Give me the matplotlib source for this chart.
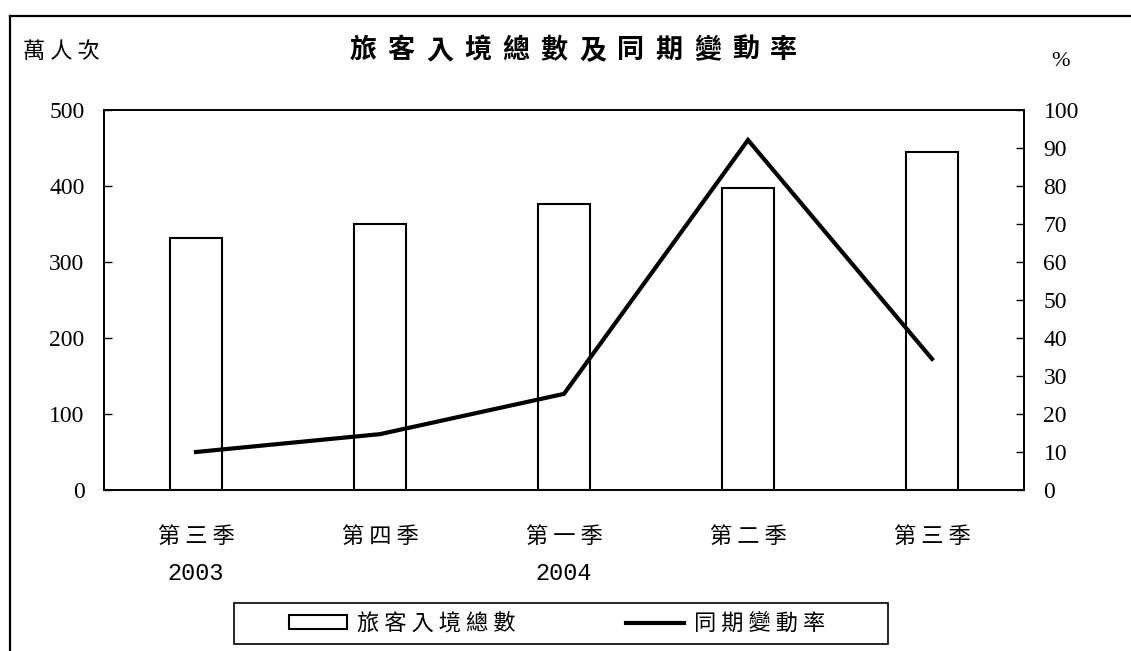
import matplotlib
matplotlib.use("Agg")
import matplotlib.pyplot as plt
from matplotlib.patches import Rectangle, Patch
from matplotlib.lines import Line2D
import matplotlib.transforms as mtrans

# ---- data ----
quarters = ["第三季", "第四季", "第一季", "第二季", "第三季"]
years = ["2003", "", "2004", "", ""]
arrivals = [331, 350, 376, 397, 445]          # 萬人次
change_rate = [10.0, 14.7, 25.3, 92.1, 34.5]  # %
left_ticks = [0, 100, 200, 300, 400, 500]
right_ticks = [0, 10, 20, 30, 40, 50, 60, 70, 80, 90, 100]
title = "旅客入境總數及同期變動率"
left_unit = "萬人次"
right_unit = "%"
bar_label = "旅客入境總數"
line_label = "同期變動率"

CJK = ["Noto Sans CJK TC", "DejaVu Sans"]
SERIF = "Liberation Serif"
MONO = "Liberation Mono"

W, H = 1131, 651
fig = plt.figure(figsize=(W / 100, H / 100), dpi=100)

# outer border (top and left visible, clipped at right/bottom)
fig.add_artist(Line2D([10 / W, 1.0], [1 - 15.5 / H, 1 - 15.5 / H], color="black", lw=1.6,
                      transform=fig.transFigure))
fig.add_artist(Line2D([10 / W, 10 / W], [0.0, 1 - 15.5 / H], color="black", lw=1.6,
                      transform=fig.transFigure))

ax_l, ax_r, ax_t, ax_b = 104, 1024, 110, 490
ax = fig.add_axes([ax_l / W, 1 - ax_b / H, (ax_r - ax_l) / W, (ax_b - ax_t) / H])
x = list(range(len(quarters)))
ax.bar(x, arrivals, width=0.28, facecolor="white", edgecolor="black", linewidth=1.5, zorder=2)
ax.set_xlim(-0.5, len(quarters) - 0.5)
ax.set_ylim(0, 500)
ax.set_yticks(left_ticks)
ax.set_yticklabels([str(t) for t in left_ticks], fontfamily=SERIF, fontsize=17)
ax.tick_params(axis="y", direction="in", length=6, width=1.0, pad=14, colors="black")
ax.set_xticks([])
for s in ax.spines.values():
    s.set_linewidth(1.2)
    s.set_color("black")

ax2 = ax.twinx()
ax2.plot(x, change_rate, color="black", lw=3.0, solid_joinstyle="miter", zorder=3)
ax2.set_ylim(0, 100)
ax2.set_yticks(right_ticks)
ax2.set_yticklabels([str(t) for t in right_ticks], fontfamily=SERIF, fontsize=17)
ax2.tick_params(axis="y", direction="in", length=6, width=1.0, pad=14, colors="black")
for s in ax2.spines.values():
    s.set_linewidth(1.2)

# category labels
trans = mtrans.blended_transform_factory(ax.transData, ax.transAxes)
for i, (q, y) in enumerate(zip(quarters, years)):
    ax.text(i, (ax_b - 536) / (ax_b - ax_t), " ".join(q), transform=trans,
            ha="center", va="center", fontfamily=CJK, fontsize=16)
    if y:
        ax.text(i, (ax_b - 573) / (ax_b - ax_t), y, transform=trans,
                ha="center", va="center", fontfamily=MONO, fontsize=17)

# title (evenly letter-spaced between x=350 and x=797 px)
t_left, t_right = 350, 797
pitch = (t_right - t_left - 26) / (len(title) - 1)
for i, ch in enumerate(title):
    fig.text((t_left + 13 + i * pitch) / W, 1 - 50 / H, ch, ha="center", va="center",
             fontfamily=CJK, fontsize=19.5, fontweight="bold")
fig.text(61 / W, 1 - 52 / H, " ".join(left_unit), ha="center", va="center",
         fontfamily=CJK, fontsize=16)
fig.text(1060 / W, 1 - 62 / H, right_unit, ha="center", va="center",
         fontfamily=SERIF, fontsize=16)

# legend
lx0, lx1, ly0, ly1 = 234, 888, 603, 644
fig.add_artist(Rectangle((lx0 / W, 1 - ly1 / H), (lx1 - lx0) / W, (ly1 - ly0) / H,
                         transform=fig.transFigure, facecolor="white", edgecolor="black",
                         lw=1.2))
handles = [Patch(facecolor="white", edgecolor="black", linewidth=1.5),
           Line2D([], [], color="black", lw=3.0)]
labels = [" ".join(bar_label), " ".join(line_label)]
leg = fig.legend(handles, labels, loc="center",
                 bbox_to_anchor=((lx0 + lx1) / 2 / W - 4 / W, 1 - (ly0 + ly1) / 2 / H),
                 ncol=2, frameon=False, handlelength=2.6, handleheight=0.55,
                 handletextpad=0.45, columnspacing=5.0,
                 prop={"family": CJK, "size": 16})

fig.savefig("out.png", dpi=100, facecolor="white")
